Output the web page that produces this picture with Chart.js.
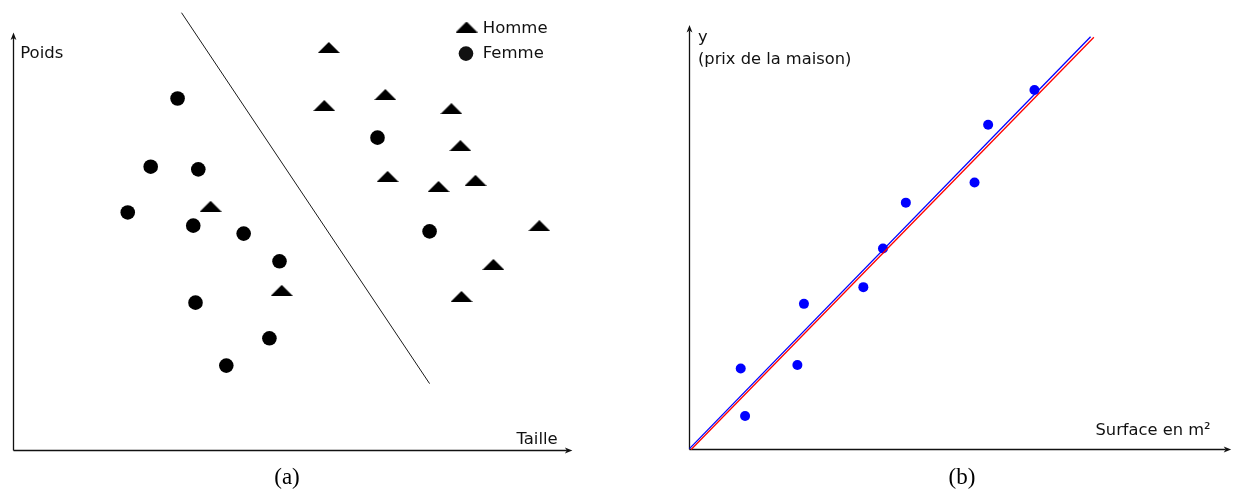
<!DOCTYPE html>
<html><head><meta charset="utf-8">
<script src="https://cdn.jsdelivr.net/npm/chart.js@4.4.1/dist/chart.umd.min.js"></script>
<style>
html,body{margin:0;padding:0;background:#fff;width:1238px;height:497px;overflow:hidden;position:relative;}
#ca{position:absolute;left:0;top:0;}
#cb{position:absolute;left:639px;top:0;}
.cap{position:absolute;top:463px;font-family:"Liberation Serif","DejaVu Serif",serif;font-size:23px;color:#000;transform:translateX(-50%);line-height:28px;}
</style></head><body>
<canvas id="ca" width="620" height="497"></canvas>
<canvas id="cb" width="599" height="497"></canvas>
<div class="cap" style="left:287px">(a)</div>
<div class="cap" style="left:962px">(b)</div>
<script>
// ---------- Data (a) ----------
const hommeX = [56.3, 55.5, 66.4, 78.2, 79.8, 66.8, 75.9, 82.5, 93.9, 85.7, 80.0, 35.2, 47.9];
const hommeY = [91.6, 78.4, 80.9, 77.7, 69.3, 62.3, 60.0, 61.4, 51.1, 42.3, 35.0, 55.5, 36.4];
const femmeX = [29.3, 24.5, 33.0, 20.4, 32.1, 41.1, 47.5, 32.5, 45.7, 38.0, 65.0, 74.3];
const femmeY = [80.0, 64.5, 63.9, 54.1, 51.1, 49.3, 43.0, 33.6, 25.5, 19.3, 71.1, 49.8];
const frontiereX = [30.0, 74.3];
const frontiereY = [99.5, 15.2];
// ---------- Data (b) ----------
const surface = [39.7, 35.5, 63.3, 54.8, 52.3, 21.0, 31.9, 9.4, 19.8, 10.2];
const prix    = [56.1, 45.7, 81.7, 73.8, 60.7, 33.1, 36.9, 18.4, 19.2, 7.6];
const droiteBleueX = [0.0, 73.6];
const droiteBleueY = [0.2, 93.8];
const droiteRougeX = [0.3, 74.2];
const droiteRougeY = [0.0, 93.7];

const pts = (xs, ys) => xs.map((x, i) => ({x, y: ys[i]}));

// flat triangle marker sprite
const triSprite = (() => {
  const c = document.createElement('canvas'); c.width = 22; c.height = 11;
  const g = c.getContext('2d'); g.fillStyle = '#000';
  g.beginPath(); g.moveTo(0, 11); g.lineTo(22, 11); g.lineTo(11, 0); g.closePath(); g.fill();
  return c;
})();

function arrow(ctx, x0, y0, x1, y1) {
  const dx = x1 - x0, dy = y1 - y0, L = Math.hypot(dx, dy);
  const ux = dx / L, uy = dy / L, px = -uy, py = ux;
  const len = 7.5, hw = 2.9, notch = 5.5;
  ctx.beginPath(); ctx.moveTo(x0, y0); ctx.lineTo(x1 - ux * notch, y1 - uy * notch); ctx.stroke();
  ctx.beginPath();
  ctx.moveTo(x1, y1);
  ctx.lineTo(x1 - ux * len + px * hw, y1 - uy * len + py * hw);
  ctx.lineTo(x1 - ux * notch, y1 - uy * notch);
  ctx.lineTo(x1 - ux * len - px * hw, y1 - uy * len - py * hw);
  ctx.closePath(); ctx.fill();
}

const annot = {
  id: 'annot',
  beforeDatasetsDraw(chart, args, o) {
    const ctx = chart.ctx, xs = chart.scales.x, ys = chart.scales.y;
    const ox = xs.getPixelForValue(0), oy = ys.getPixelForValue(0);
    ctx.save(); ctx.strokeStyle = '#111'; ctx.fillStyle = '#111'; ctx.lineWidth = 1.3;
    arrow(ctx, ox, oy, xs.getPixelForValue(o.xEnd), oy);
    arrow(ctx, ox, oy, ox, ys.getPixelForValue(o.yEnd));
    ctx.restore();
  },
  afterDatasetsDraw(chart, args, o) {
    const ctx = chart.ctx, xs = chart.scales.x, ys = chart.scales.y;
    ctx.save();
    ctx.fillStyle = '#111'; ctx.font = o.font; ctx.textAlign = 'left'; ctx.textBaseline = 'alphabetic';
    (o.labels || []).forEach(l => ctx.fillText(l.text, xs.getPixelForValue(l.x), ys.getPixelForValue(l.y)));
    (o.legend || []).forEach(it => {
      const ds = chart.data.datasets[it.ds];
      Chart.helpers.drawPoint(ctx, {pointStyle: ds.pointStyle, radius: ds.pointRadius, rotation: 0, borderWidth: 0},
        xs.getPixelForValue(it.mx), ys.getPixelForValue(it.my));
      ctx.fillStyle = '#111';
      ctx.fillText(ds.label, xs.getPixelForValue(it.tx), ys.getPixelForValue(it.ty));
    });
    ctx.restore();
  }
};

new Chart(document.getElementById('ca'), {
  type: 'scatter',
  data: {datasets: [
    {label: 'Homme', data: pts(hommeX, hommeY), pointStyle: triSprite, pointRadius: 8, backgroundColor: '#000', borderWidth: 0, clip: false},
    {label: 'Femme', data: pts(femmeX, femmeY), pointStyle: 'circle', pointRadius: 7.3, backgroundColor: '#000', borderColor: '#000', borderWidth: 0, clip: false},
    {label: 'frontière', data: pts(frontiereX, frontiereY), showLine: true, borderColor: '#1a1a1a', borderWidth: 1, pointRadius: 0, clip: false}
  ]},
  options: {
    responsive: false, animation: false, events: [],
    layout: {padding: {left: 13.5, right: 46.5, top: 10.5, bottom: 46.5}},
    scales: {x: {type: 'linear', min: 0, max: 100, display: false}, y: {type: 'linear', min: 0, max: 100, display: false}},
    plugins: {
      legend: {display: false}, tooltip: {enabled: false},
      annot: {
        xEnd: 99.8, yEnd: 95, font: '16.5px "DejaVu Sans"',
        labels: [{text: 'Poids', x: 1.2, y: 89.3}, {text: 'Taille', x: 89.8, y: 1.5}],
        legend: [{ds: 0, mx: 80.9, my: 96.25, tx: 83.8, ty: 95.0}, {ds: 1, mx: 80.8, my: 90.2, tx: 83.8, ty: 89.2}]
      }
    }
  },
  plugins: [annot]
});

new Chart(document.getElementById('cb'), {
  type: 'scatter',
  data: {datasets: [
    {label: 'droite bleue', data: pts(droiteBleueX, droiteBleueY), showLine: true, borderColor: '#0000ff', borderWidth: 1.3, pointRadius: 0, clip: false},
    {label: 'droite rouge', data: pts(droiteRougeX, droiteRougeY), showLine: true, borderColor: '#ff0000', borderWidth: 1.3, pointRadius: 0, clip: false},
    {label: 'maisons', data: pts(surface, prix), pointStyle: 'circle', pointRadius: 5, backgroundColor: '#0000ff', borderColor: '#0000ff', borderWidth: 0, clip: false}
  ]},
  options: {
    responsive: false, animation: false, events: [],
    layout: {padding: {left: 50.5, right: 0, top: 9.5, bottom: 47.5}},
    scales: {x: {type: 'linear', min: 0, max: 99.73, display: false}, y: {type: 'linear', min: 0, max: 100, display: false}},
    plugins: {
      legend: {display: false}, tooltip: {enabled: false},
      annot: {
        xEnd: 99.4, yEnd: 96.5, font: '16.3px "DejaVu Sans"',
        labels: [{text: 'y', x: 1.55, y: 92.6}, {text: '(prix de la maison)', x: 1.55, y: 87.7}, {text: 'Surface en m²', x: 74.5, y: 3.3}]
      }
    }
  },
  plugins: [annot]
});
</script>
</body></html>
